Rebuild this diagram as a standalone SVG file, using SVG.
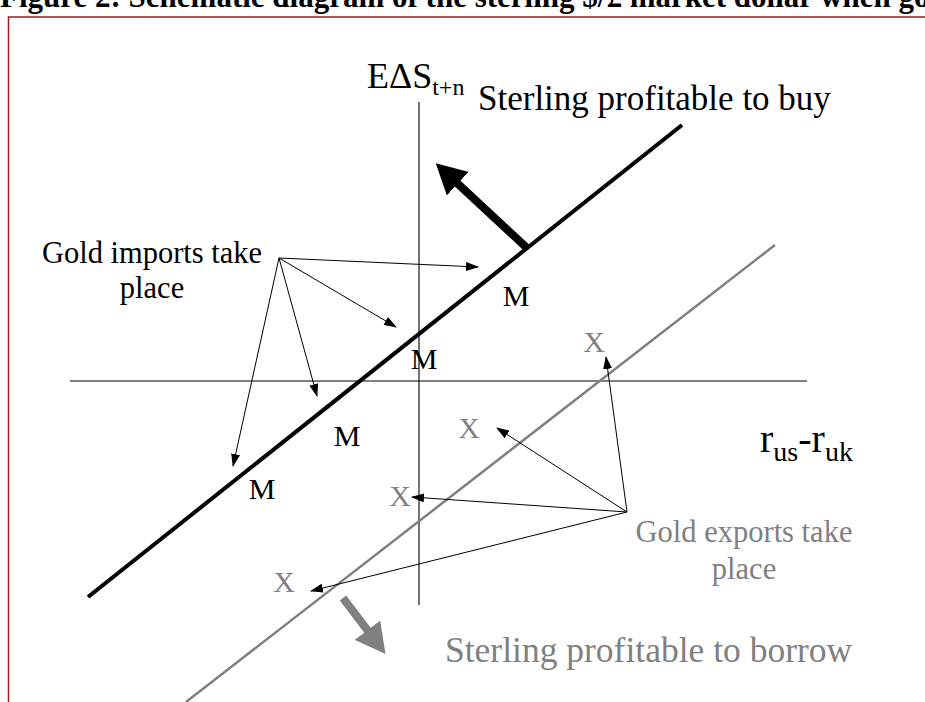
<svg xmlns="http://www.w3.org/2000/svg" width="925" height="702" viewBox="0 0 925 702">
<style>
.t{font-family:"Liberation Serif","Times New Roman",serif;}
.blk{fill:#000;}
.gry{fill:#808080;}
.thin{stroke:#000;stroke-width:1;fill:none;marker-end:url(#ah);}
</style>
<defs>
<marker id="ah" markerUnits="userSpaceOnUse" markerWidth="13" markerHeight="9" viewBox="0 0 13 9" refX="12" refY="4.5" orient="auto"><path d="M0,0 L13,4.5 L0,9 z" fill="#000"/></marker>
<marker id="bigB" markerUnits="userSpaceOnUse" markerWidth="30" markerHeight="32" viewBox="0 0 30 32" refX="1" refY="16" orient="auto"><path d="M0,0 L30,16 L0,32 z" fill="#000"/></marker>
<marker id="bigG" markerUnits="userSpaceOnUse" markerWidth="30" markerHeight="32" viewBox="0 0 30 32" refX="1" refY="16" orient="auto"><path d="M0,0 L30,16 L0,32 z" fill="#808080"/></marker>
</defs>
<rect width="925" height="702" fill="#fff"/>
<text class="t" x="0" y="7" font-size="31" font-weight="bold" fill="#000">Figure 2: Schematic diagram of the sterling $/£ market dollar when go</text>
<g id="frame" fill="none" stroke="#9b1c1c" stroke-width="1.5">
<path d="M8.5,702 V17 H925"/>
</g>
<g id="axes">
<line x1="419" y1="102" x2="419" y2="605" stroke="#444" stroke-width="1.5"/>
<line x1="70" y1="381" x2="807" y2="381" stroke="#000" stroke-width="1"/>
</g>
<g id="line-M">
<line x1="88" y1="597" x2="682" y2="125" stroke="#000" stroke-width="4"/>
</g>
<g id="line-X">
<line x1="186" y1="702" x2="775" y2="245" stroke="#808080" stroke-width="2.5"/>
</g>
<g id="connectors">
<line x1="527" y1="248" x2="457" y2="183" stroke="#000" stroke-width="8" marker-end="url(#bigB)"/>
<line x1="343" y1="598" x2="368" y2="631" stroke="#808080" stroke-width="8" marker-end="url(#bigG)"/>
<line class="thin" x1="279" y1="258" x2="478" y2="267"/>
<line class="thin" x1="279" y1="258" x2="396" y2="327"/>
<line class="thin" x1="279" y1="258" x2="317" y2="396"/>
<line class="thin" x1="279" y1="258" x2="233" y2="466"/>
<line class="thin" x1="627" y1="512" x2="497" y2="428"/>
<line class="thin" x1="627" y1="512" x2="606" y2="357"/>
<line class="thin" x1="627" y1="512" x2="412" y2="497"/>
<line class="thin" x1="627" y1="512" x2="311" y2="591"/>
</g>
<g id="y-label"><text class="t blk" x="367" y="88" font-size="36">EΔS<tspan font-size="24" dy="7">t+n</tspan></text></g>
<g id="x-label"><text class="t blk" x="760" y="452" font-size="40">r<tspan font-size="28" dy="9">us</tspan><tspan font-size="40" dy="-9">-r</tspan><tspan font-size="28" dy="9">uk</tspan></text></g>
<g id="buy-label"><text class="t blk" x="478" y="110" font-size="35">Sterling profitable to buy</text></g>
<g id="borrow-label"><text class="t gry" x="445" y="662" font-size="35.5">Sterling profitable to borrow</text></g>
<g id="imports-label"><text class="t blk" font-size="30.5" text-anchor="middle"><tspan x="152" y="263">Gold imports take</tspan><tspan x="152" y="298">place</tspan></text></g>
<g id="exports-label"><text class="t gry" font-size="30.5" text-anchor="middle"><tspan x="744" y="542">Gold exports take</tspan><tspan x="744" y="579">place</tspan></text></g>
<g id="M-points" class="t blk" font-size="30" text-anchor="middle">
<text x="516" y="306">M</text>
<text x="424" y="369">M</text>
<text x="347" y="446">M</text>
<text x="262" y="499">M</text>
</g>
<g id="X-points" class="t gry" font-size="30" text-anchor="middle">
<text x="594" y="352">X</text>
<text x="469" y="438">X</text>
<text x="400" y="506">X</text>
<text x="284" y="592">X</text>
</g>
</svg>
